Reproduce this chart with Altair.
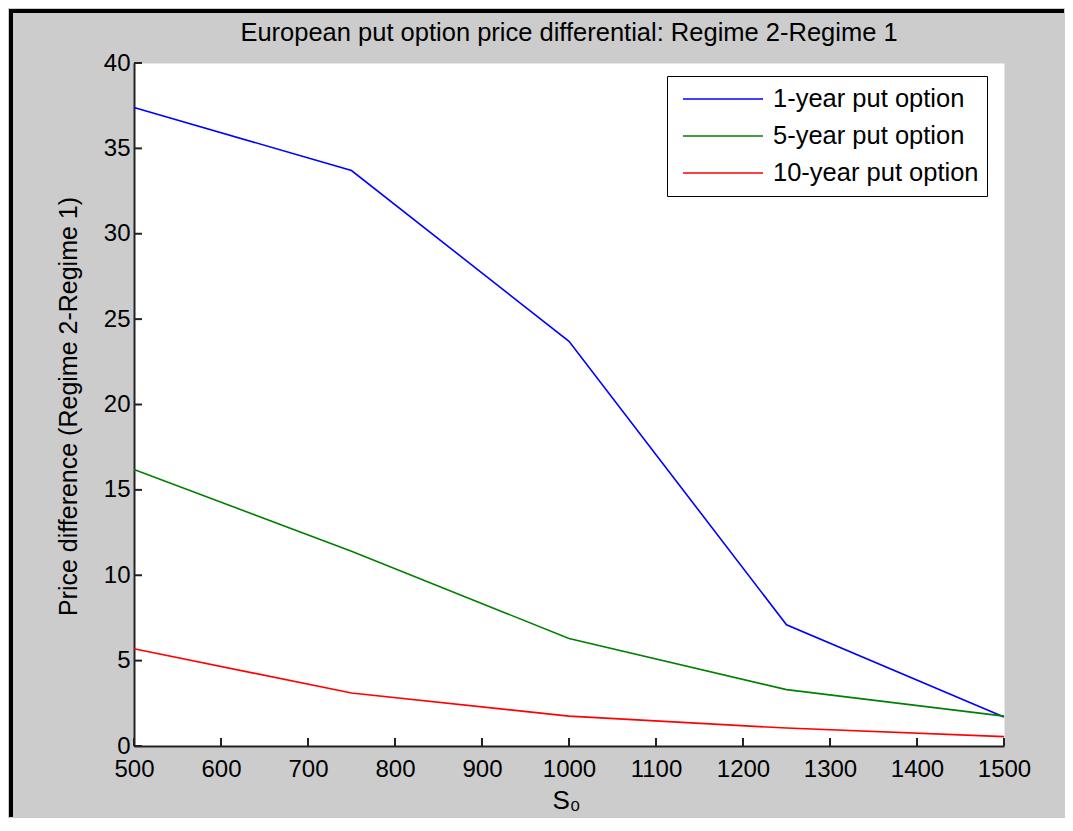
import altair as alt
import pandas as pd

# ---- data ----
s0 = [500, 750, 1000, 1250, 1500]
put_1y = [37.4, 33.7, 23.7, 7.1, 1.7]
put_5y = [16.2, 11.4, 6.3, 3.3, 1.75]
put_10y = [5.7, 3.1, 1.75, 1.05, 0.55]
series_names = ["1-year put option", "5-year put option", "10-year put option"]
series_colors = ["#0000ff", "#008000", "#ff0000"]
x_ticks = [500, 600, 700, 800, 900, 1000, 1100, 1200, 1300, 1400, 1500]
y_ticks = [0, 5, 10, 15, 20, 25, 30, 35, 40]
chart_title = "European put option price differential: Regime 2-Regime 1"
y_title = "Price difference (Regime 2-Regime 1)"
x_title = "S\u2080"

# ---- layout ----
W, H = 870, 683
PAD = {"left": 126, "top": 55, "right": 61, "bottom": 72}
FONT = "Liberation Sans"
AXC = "#222222"

rows = []
for name, vals in zip(series_names, [put_1y, put_5y, put_10y]):
    for x, v in zip(s0, vals):
        rows.append({"S0": x, "diff": v, "series": name})
df = pd.DataFrame(rows)

x_scale = alt.Scale(domain=[500, 1500], nice=False)
y_scale = alt.Scale(domain=[0, 40], nice=False, zero=True)

lines = alt.Chart(df).mark_line(strokeWidth=1.6).encode(
    x=alt.X(
        "S0:Q",
        scale=x_scale,
        axis=alt.Axis(
            values=x_ticks, format="d", title=x_title, ticks=False, grid=False,
            domainColor=AXC, domainWidth=2, labelPadding=11, labelFontSize=24,
            labelFont=FONT, labelColor="black", labelFlush=False, labelOverlap=False,
            titleFont=FONT, titleFontSize=26, titleFontWeight="normal", titleColor="black",
            titleX=432, titleY=62, titleAlign="center", titleBaseline="alphabetic",
        ),
    ),
    y=alt.Y(
        "diff:Q",
        scale=y_scale,
        axis=alt.Axis(
            values=y_ticks, format="d", title=y_title, ticks=False, grid=False,
            domainColor=AXC, domainWidth=2, labelPadding=4, labelFontSize=24,
            labelFont=FONT, labelColor="black", labelFlush=False, labelOverlap=False,
            titleFont=FONT, titleFontSize=25, titleFontWeight="normal", titleColor="black",
            titleX=-66, titleY=343, titleAngle=270, titleAlign="center",
            titleBaseline="middle",
        ),
    ),
    color=alt.Color(
        "series:N",
        scale=alt.Scale(domain=series_names, range=series_colors),
        legend=alt.Legend(
            title=None, orient="none", legendX=533, legendY=13,
            symbolType="stroke", symbolSize=6400, symbolStrokeWidth=1.6,
            symbolOffset=7, labelOffset=9, clipHeight=30, rowPadding=7,
            padding=8, strokeColor="black", fillColor="white",
            labelFont=FONT, labelFontSize=25.5, labelColor="black", labelLimit=400,
        ),
    ),
)

# inward-pointing ticks (same field names so the axes merge with the main ones)
ytick_df = pd.DataFrame({"diff": y_ticks})
xtick_df = pd.DataFrame({"S0": x_ticks})

yticks = alt.Chart(ytick_df).mark_rule(color=AXC, strokeWidth=2).encode(
    y=alt.Y("diff:Q", scale=y_scale),
    x=alt.value(0),
    x2=alt.value(8),
)
xticks = alt.Chart(xtick_df).mark_rule(color=AXC, strokeWidth=2).encode(
    x=alt.X("S0:Q", scale=x_scale),
    y=alt.value(H),
    y2=alt.value(H - 8),
)

# figure frame: only the top and left edges are visible in the reference
one = pd.DataFrame({"k": [0]})
left_bar = alt.Chart(one).mark_rect(color="black").encode(
    x=alt.value(-PAD["left"] + 1),
    x2=alt.value(-PAD["left"] + 5),
    y=alt.value(-PAD["top"] + 1),
    y2=alt.value(H + PAD["bottom"] - 1),
)
top_bar = alt.Chart(one).mark_rect(color="black").encode(
    x=alt.value(-PAD["left"] + 1),
    x2=alt.value(W + PAD["right"] - 1),
    y=alt.value(-PAD["top"] + 1),
    y2=alt.value(-PAD["top"] + 5),
)

chart = (
    alt.layer(lines, yticks, xticks, left_bar, top_bar)
    .properties(
        width=W,
        height=H,
        padding=PAD,
        autosize=alt.AutoSizeParams(type="none"),
        title=alt.TitleParams(
            chart_title, font=FONT, fontSize=25.5, fontWeight="normal",
            color="black", anchor="middle", frame="group", baseline="alphabetic",
            offset=0, dy=57,
        ),
    )
    .configure(background="#cccccc")
    .configure_view(fill="white", stroke="transparent")
)

chart.save("out.html", embed_options={"renderer": "svg", "actions": False})
